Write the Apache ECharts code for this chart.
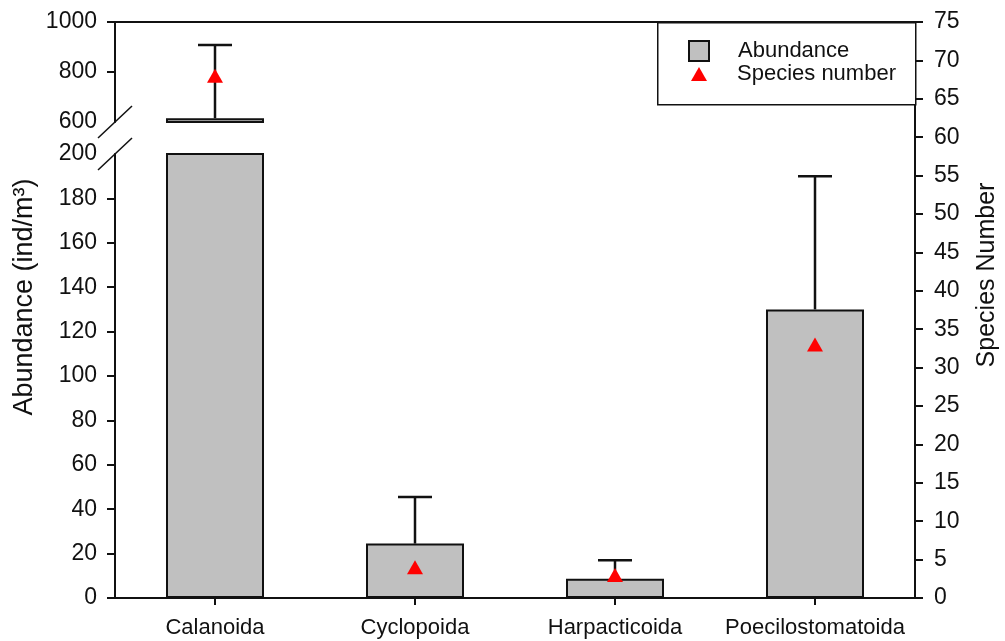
<!DOCTYPE html>
<html>
<head>
<meta charset="utf-8">
<script src="https://cdn.jsdelivr.net/npm/echarts@6/dist/echarts.min.js"></script>
<style>
html,body{margin:0;padding:0;background:#fff;}
#chart{width:1005px;height:641px;}
</style>
</head>
<body>
<div id="chart"></div>
<script>
// ---- data ----
const categories = ['Calanoida', 'Cyclopoida', 'Harpacticoida', 'Poecilostomatoida'];
const abundance = [615, 24.5, 8.7, 130];
const abundanceSD = [293, 21, 8.3, 60];
const species = [68, 4, 3, 33];
const upperTicks = [600, 800, 1000];
const lowerTicks = [0, 20, 40, 60, 80, 100, 120, 140, 160, 180, 200];

// ---- build ----
const FONT = "'Liberation Sans', Arial, sans-serif";
const INK = '#111';
const errData = categories.map((c, i) => [i, abundance[i], abundance[i] + abundanceSD[i]]);

function renderErr(params, api) {
  const x = api.value(0);
  const p0 = api.coord([x, api.value(1)]);
  const p1 = api.coord([x, api.value(2)]);
  const half = 17;
  const st = { stroke: INK, lineWidth: 2.5 };
  return {
    type: 'group',
    children: [
      { type: 'line', shape: { x1: p0[0], y1: p0[1], x2: p1[0], y2: p1[1] }, style: st },
      { type: 'line', shape: { x1: p1[0] - half, y1: p1[1], x2: p1[0] + half, y2: p1[1] }, style: st }
    ]
  };
}

const axisLine = { show: true, lineStyle: { color: INK, width: 2 } };
const tickStyle = { color: INK, width: 2 };
const plain = v => String(v);
const labelStyle = { color: INK, fontFamily: FONT, fontSize: 23, formatter: plain };

const chart = echarts.init(document.getElementById('chart'), null, { renderer: 'canvas' });
const option = {
  animation: false,
  backgroundColor: '#fff',
  textStyle: { fontFamily: FONT },
  grid: [
    { left: 115, right: 90, top: 22, height: 100, outerBoundsMode: 'none', containLabel: false },
    { left: 115, right: 90, top: 154, bottom: 43, outerBoundsMode: 'none', containLabel: false },
    { left: 115, right: 90, top: 22, bottom: 43, outerBoundsMode: 'none', containLabel: false }
  ],
  xAxis: [
    { gridIndex: 0, type: 'category', data: categories, position: 'top',
      axisLine: axisLine, axisTick: { show: false }, axisLabel: { show: false }, splitLine: { show: false } },
    { gridIndex: 1, type: 'category', data: categories, position: 'bottom',
      axisLine: axisLine,
      axisTick: { show: true, alignWithLabel: true, interval: 0, length: 7, inside: false, lineStyle: tickStyle },
      axisLabel: { interval: 0, hideOverlap: false, color: INK, fontFamily: FONT, fontSize: 22, margin: 19 },
      splitLine: { show: false } },
    { gridIndex: 2, type: 'category', data: categories, show: false }
  ],
  yAxis: [
    { gridIndex: 0, type: 'value', min: 600, max: 1000, interval: 200,
      axisLine: axisLine,
      axisTick: { show: true, length: 8, lineStyle: tickStyle, customValues: upperTicks.slice(1) },
      axisLabel: Object.assign({ margin: 18 }, labelStyle),
      splitLine: { show: false } },
    { gridIndex: 1, type: 'value', min: 0, max: 200, interval: 20,
      axisLine: axisLine,
      axisTick: { show: true, length: 8, lineStyle: tickStyle, customValues: lowerTicks.slice(0, -1) },
      axisLabel: Object.assign({ margin: 18 }, labelStyle),
      splitLine: { show: false } },
    { gridIndex: 2, type: 'value', min: 0, max: 1, position: 'left',
      axisLine: { show: false }, axisTick: { show: false }, axisLabel: { show: false }, splitLine: { show: false },
      name: 'Abundance (ind/m³)', nameLocation: 'middle', nameGap: 77,
      nameTextStyle: { color: INK, fontFamily: FONT, fontSize: 27, padding: [0, 0, 0, 26] } },
    { gridIndex: 2, type: 'value', min: 0, max: 75, interval: 5, position: 'right',
      axisLine: axisLine,
      axisTick: { show: true, length: 8, lineStyle: tickStyle },
      axisLabel: Object.assign({ margin: 19 }, labelStyle),
      splitLine: { show: false },
      name: 'Species Number', nameLocation: 'middle', nameGap: 60,
      nameTextStyle: { color: INK, fontFamily: FONT, fontSize: 25, padding: [0, 0, 0, 70] } }
  ],
  legend: [
    { data: ['Abundance'], orient: 'vertical', left: 688, top: 40,
      itemWidth: 20, itemHeight: 20, icon: 'rect', padding: 0,
      itemStyle: { borderWidth: 2, borderColor: INK },
      textStyle: { color: INK, fontFamily: FONT, fontSize: 22, padding: [0, 0, 0, 24] } },
    { data: ['Species number'], orient: 'vertical', left: 691, top: 63,
      itemWidth: 16, itemHeight: 14, icon: 'triangle', padding: 0,
      itemStyle: { color: '#ff0000', opacity: 1 },
      textStyle: { color: INK, fontFamily: FONT, fontSize: 22, padding: [0, 0, 0, 25] } }
  ],
  graphic: [
    { type: 'rect', id: 'legendBox', left: 657, top: 22, z: 3,
      shape: { width: 258, height: 82 }, style: { fill: '#fff', stroke: INK, lineWidth: 1.5 } }
  ],
  series: [
    { name: 'Abundance', type: 'bar', xAxisIndex: 0, yAxisIndex: 0, data: abundance, barWidth: 98,
      itemStyle: { color: '#c0c0c0', borderColor: INK, borderWidth: 2 } },
    { name: 'Abundance', type: 'bar', xAxisIndex: 1, yAxisIndex: 1, data: abundance, barWidth: 98,
      itemStyle: { color: '#c0c0c0', borderColor: INK, borderWidth: 2 } },
    { name: 'Abundance SD', type: 'custom', xAxisIndex: 0, yAxisIndex: 0, data: errData, clip: true,
      renderItem: renderErr, z: 3 },
    { name: 'Abundance SD', type: 'custom', xAxisIndex: 1, yAxisIndex: 1, data: errData, clip: true,
      renderItem: renderErr, z: 3 },
    { name: 'Species number', type: 'scatter', xAxisIndex: 2, yAxisIndex: 3, data: species,
      symbol: 'triangle', symbolSize: [16, 14], itemStyle: { color: '#ff0000', opacity: 1 }, z: 5 }
  ]
};
chart.setOption(option);

// axis-break marks
const yUp = chart.convertToPixel({ yAxisIndex: 0 }, upperTicks[0]);
const yLow = chart.convertToPixel({ yAxisIndex: 1 }, lowerTicks[lowerTicks.length - 1]);
const ax = 115;
const brk = (id, y) => ({ type: 'line', id: id, z: 10,
  shape: { x1: ax - 17, y1: y + 16, x2: ax + 17, y2: y - 16 },
  style: { stroke: INK, lineWidth: 1.5 } });
chart.setOption({ graphic: [brk('b1', yUp), brk('b2', yLow)] });
</script>
</body>
</html>
